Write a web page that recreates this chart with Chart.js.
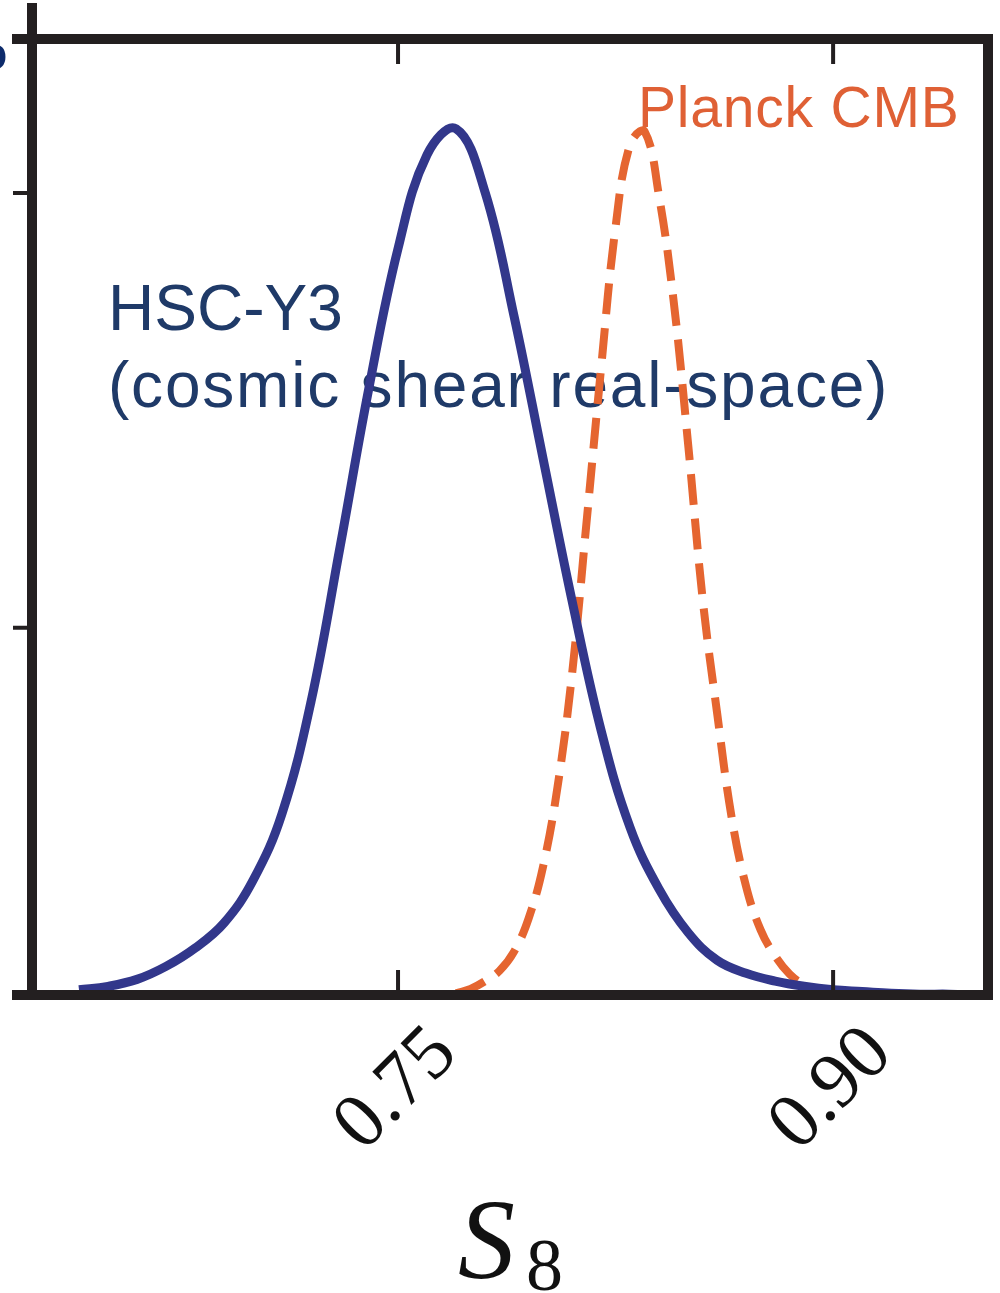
<!DOCTYPE html>
<html lang="en">
<head>
    <meta charset="UTF-8">
    <title>S8 posteriors - HSC-Y3 vs Planck</title>
    <script src="https://cdn.jsdelivr.net/npm/chart.js"></script>
    <style>
        html, body { margin: 0; padding: 0; background: #fff; }
        .wrap { width: 1000px; height: 1293px; position: relative; }
    </style>
</head>
<body>
    <div class="wrap"><canvas id="s8Chart"></canvas></div>

    <script>
        // HSC-Y3 cosmic shear (solid line), posterior normalised to peak = 1
        const hscS8 = [0.64, 0.65, 0.66, 0.67, 0.68, 0.69, 0.70, 0.71, 0.72, 0.73,
                       0.74, 0.75, 0.76, 0.77, 0.78, 0.79, 0.80, 0.81, 0.82, 0.83,
                       0.84, 0.85, 0.86, 0.87, 0.88, 0.89, 0.90, 0.91, 0.92, 0.93,
                       0.94, 0.95];
        const hscP = [0.006, 0.010, 0.018, 0.033, 0.054, 0.083, 0.132, 0.209, 0.338, 0.516,
                      0.700, 0.860, 0.968, 0.998, 0.925, 0.782, 0.618, 0.454, 0.305, 0.193,
                      0.122, 0.072, 0.040, 0.025, 0.016, 0.010, 0.006, 0.004, 0.002, 0.001,
                      0.001, 0.000];

        // Planck CMB (dashed line)
        const planckS8 = [0.770, 0.775, 0.780, 0.785, 0.790, 0.795, 0.800, 0.805, 0.810, 0.815,
                          0.820, 0.825, 0.830, 0.835, 0.840, 0.845, 0.850, 0.855, 0.860, 0.865,
                          0.870, 0.875, 0.880, 0.885, 0.890, 0.895, 0.900, 0.905];
        const planckP = [0.002, 0.007, 0.016, 0.028, 0.050, 0.088, 0.148, 0.240, 0.370, 0.545,
                         0.722, 0.885, 0.980, 0.995, 0.920, 0.800, 0.635, 0.457, 0.325, 0.205,
                         0.125, 0.075, 0.045, 0.024, 0.012, 0.006, 0.002, 0.000];

        const xTicks = [0.75, 0.90];
        const xTickLabels = ['0.75', '0.90'];
        const yTicks = [0.423, 0.924];

        const toPoints = (xs, ys) => xs.map((v, i) => ({ x: v, y: ys[i] }));

        // frame, ticks, labels and text annotations
        const framePlugin = {
            id: 'frame',
            beforeDatasetsDraw(chart) {
                const { ctx, chartArea: a } = chart;
                ctx.save();
                ctx.textBaseline = 'alphabetic';
                // edge of the neighbouring panel's label, cut off at the left
                ctx.fillStyle = '#0d2b6b';
                ctx.font = 'bold 48px "Liberation Sans", Arial, sans-serif';
                ctx.fillText('o', -22, 70);

                ctx.fillStyle = '#1f3a68';
                ctx.font = '64px "Liberation Sans", Arial, sans-serif';
                ctx.fillText('HSC-Y3', a.left + 76, 330);
                ctx.letterSpacing = '1.8px';
                ctx.fillText('(cosmic shear real-space)', a.left + 76, 407);
                ctx.fillStyle = '#df6035';
                ctx.font = '57px "Liberation Sans", Arial, sans-serif';
                ctx.letterSpacing = '0.8px';
                ctx.fillText('Planck CMB', 638, 127);
                ctx.restore();
            },
            afterDatasetsDraw(chart) {
                const { ctx, chartArea: a, scales: { x, y } } = chart;
                ctx.save();
                ctx.strokeStyle = '#231f20';
                ctx.lineCap = 'butt';
                ctx.lineWidth = 10;
                ctx.beginPath();
                ctx.moveTo(a.left, 3); ctx.lineTo(a.left, a.bottom + 5);
                ctx.moveTo(a.left - 20, a.top); ctx.lineTo(a.right + 5, a.top);
                ctx.moveTo(a.left - 20, a.bottom); ctx.lineTo(a.right + 5, a.bottom);
                ctx.moveTo(a.right, a.top - 5); ctx.lineTo(a.right, a.bottom + 5);
                ctx.stroke();

                ctx.lineWidth = 4;
                ctx.beginPath();
                xTicks.forEach(v => {
                    const px = x.getPixelForValue(v);
                    ctx.moveTo(px, a.bottom - 5); ctx.lineTo(px, a.bottom - 25);
                    ctx.moveTo(px, a.top + 5); ctx.lineTo(px, a.top + 25);
                });
                yTicks.forEach(v => {
                    const py = y.getPixelForValue(v);
                    ctx.moveTo(a.left - 5, py); ctx.lineTo(a.left - 19, py);
                });
                ctx.stroke();

                // rotated tick labels
                ctx.fillStyle = '#111';
                ctx.font = '78px "Liberation Serif", "Times New Roman", serif';
                ctx.textAlign = 'center';
                ctx.textBaseline = 'middle';
                xTicks.forEach((v, i) => {
                    const px = x.getPixelForValue(v);
                    ctx.save();
                    ctx.translate(px - 1, a.bottom + 95);
                    ctx.rotate(-Math.PI / 4);
                    ctx.fillText(xTickLabels[i], 0, 0);
                    ctx.restore();
                });

                // axis title S_8
                ctx.textAlign = 'left';
                ctx.textBaseline = 'alphabetic';
                ctx.font = 'italic 114px "Liberation Serif", "Times New Roman", serif';
                ctx.fillText('S', 458, 1278);
                ctx.font = '74px "Liberation Serif", "Times New Roman", serif';
                ctx.fillText('8', 526, 1290);
                ctx.restore();
            }
        };

        new Chart(document.getElementById('s8Chart'), {
            type: 'line',
            data: {
                datasets: [{
                    label: 'HSC-Y3',
                    data: toPoints(hscS8, hscP),
                    borderColor: '#32378b',
                    borderWidth: 9,
                    pointRadius: 0,
                    tension: 0.4,
                    clip: false
                }, {
                    label: 'Planck CMB',
                    data: toPoints(planckS8, planckP),
                    borderColor: '#e56530',
                    borderWidth: 8,
                    borderDash: [31, 14],
                    pointRadius: 0,
                    tension: 0.4,
                    clip: false
                }]
            },
            options: {
                responsive: true,
                maintainAspectRatio: false,
                animation: false,
                layout: { padding: { left: 32, right: 12, top: 39, bottom: 298 } },
                plugins: { legend: { display: false }, tooltip: { enabled: false } },
                scales: {
                    x: { type: 'linear', display: false, min: 0.6238, max: 0.9534 },
                    y: { display: false, min: 0, max: 1.1014 }
                }
            },
            plugins: [framePlugin]
        });
    </script>
</body>
</html>
